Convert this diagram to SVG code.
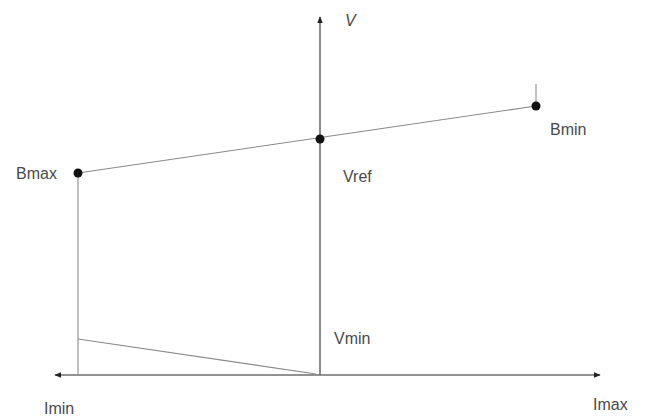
<svg xmlns="http://www.w3.org/2000/svg" width="648" height="417" viewBox="0 0 648 417">
<style>
.t{font-family:"Liberation Sans",Arial,sans-serif;font-size:16px;fill:#4a4a4a}
.ax{stroke:#6e6e6e;stroke-width:1.6;fill:none}
.ln{stroke:#8a8a8a;stroke-width:1.1;fill:none}
.dot{fill:#111}
</style>
<defs>
<marker id="arr" viewBox="0 0 10 10" refX="9" refY="5" markerWidth="7" markerHeight="7" orient="auto-start-reverse" markerUnits="userSpaceOnUse">
<path d="M0,1 L10,5 L0,9 Z" fill="#222"/>
</marker>
</defs>
<rect width="648" height="417" fill="#fff"/>
<g id="connectors">
<line class="ax" x1="55" y1="375" x2="600" y2="375" marker-start="url(#arr)" marker-end="url(#arr)"/>
<line class="ax" x1="320" y1="375" x2="320" y2="17" marker-end="url(#arr)"/>
<line class="ln" x1="78" y1="173" x2="536" y2="106"/>
<line class="ln" x1="78" y1="173" x2="78" y2="375"/>
<line class="ln" x1="536" y1="84" x2="536" y2="106"/>
<line class="ln" x1="78" y1="339" x2="316" y2="374"/>
</g>
<g id="bmax"><circle class="dot" cx="78" cy="173" r="4.5"/><text class="t" x="16" y="179">Bmax</text></g>
<g id="vref"><circle class="dot" cx="320" cy="139" r="4.5"/><text class="t" x="343" y="182">Vref</text></g>
<g id="bmin"><circle class="dot" cx="536" cy="106" r="4.5"/><text class="t" x="550" y="135">Bmin</text></g>
<g id="labels">
<text class="t" x="345" y="26" font-style="italic">V</text>
<text class="t" x="334" y="344">Vmin</text>
<text class="t" x="44" y="414">Imin</text>
<text class="t" x="593" y="410">Imax</text>
</g>
</svg>
